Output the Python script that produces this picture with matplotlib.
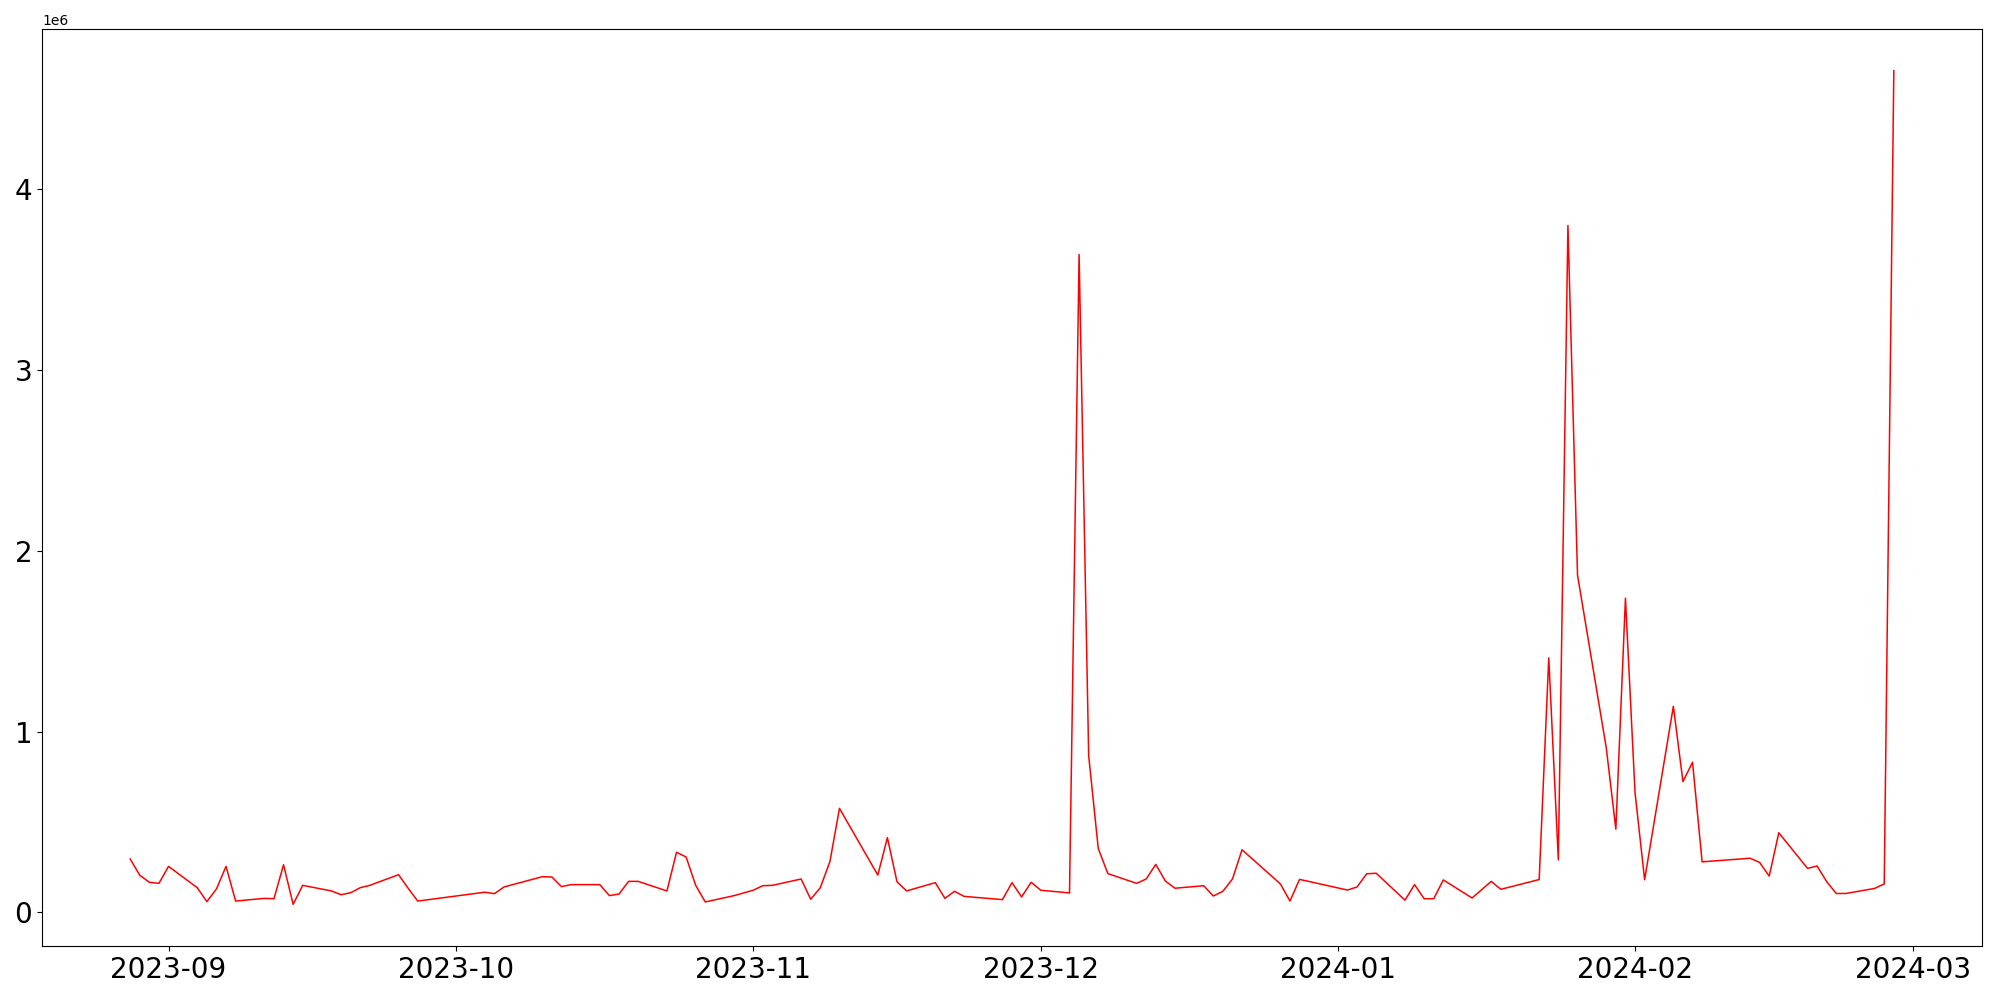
#/usr/bin/env python
'''
Daily series with a few large spikes, drawn as a red line
'''

import pandas as pd
import matplotlib
matplotlib.use('Agg')
import matplotlib.pyplot as plt

dates = ['2023-08-28', '2023-08-29', '2023-08-30', '2023-08-31', '2023-09-01',
         '2023-09-04', '2023-09-05', '2023-09-06', '2023-09-07', '2023-09-08',
         '2023-09-11', '2023-09-12', '2023-09-13', '2023-09-14', '2023-09-15',
         '2023-09-18', '2023-09-19', '2023-09-20', '2023-09-21', '2023-09-22',
         '2023-09-25', '2023-09-26', '2023-09-27',
         '2023-10-04', '2023-10-05', '2023-10-06',
         '2023-10-10', '2023-10-11', '2023-10-12', '2023-10-13',
         '2023-10-16', '2023-10-17', '2023-10-18', '2023-10-19', '2023-10-20',
         '2023-10-23', '2023-10-24', '2023-10-25', '2023-10-26', '2023-10-27',
         '2023-10-30',
         '2023-11-01', '2023-11-02', '2023-11-03',
         '2023-11-06', '2023-11-07', '2023-11-08', '2023-11-09', '2023-11-10',
         '2023-11-14', '2023-11-15', '2023-11-16', '2023-11-17',
         '2023-11-20', '2023-11-21', '2023-11-22', '2023-11-23',
         '2023-11-27', '2023-11-28', '2023-11-29', '2023-11-30', '2023-12-01',
         '2023-12-04', '2023-12-05', '2023-12-06', '2023-12-07', '2023-12-08',
         '2023-12-11', '2023-12-12', '2023-12-13', '2023-12-14', '2023-12-15',
         '2023-12-18', '2023-12-19', '2023-12-20', '2023-12-21', '2023-12-22',
         '2023-12-26', '2023-12-27', '2023-12-28',
         '2024-01-02', '2024-01-03', '2024-01-04', '2024-01-05',
         '2024-01-08', '2024-01-09', '2024-01-10', '2024-01-11', '2024-01-12',
         '2024-01-15', '2024-01-17', '2024-01-18',
         '2024-01-22', '2024-01-23', '2024-01-24', '2024-01-25', '2024-01-26',
         '2024-01-29', '2024-01-30', '2024-01-31', '2024-02-01', '2024-02-02',
         '2024-02-05', '2024-02-06', '2024-02-07', '2024-02-08',
         '2024-02-13', '2024-02-14', '2024-02-15', '2024-02-16',
         '2024-02-19', '2024-02-20', '2024-02-21', '2024-02-22', '2024-02-23',
         '2024-02-26', '2024-02-27', '2024-02-28']

# values in millions
values = [0.295, 0.205, 0.166, 0.160, 0.254,
          0.136, 0.059, 0.129, 0.254, 0.062,
          0.077, 0.075, 0.263, 0.044, 0.149,
          0.118, 0.097, 0.108, 0.136, 0.149,
          0.208, 0.133, 0.062,
          0.111, 0.103, 0.140,
          0.197, 0.195, 0.142, 0.153,
          0.153, 0.092, 0.101, 0.171, 0.171,
          0.118, 0.332, 0.306, 0.149, 0.057,
          0.092,
          0.122, 0.147, 0.149,
          0.184, 0.072, 0.136, 0.280, 0.575,
          0.206, 0.413, 0.169, 0.118,
          0.164, 0.077, 0.116, 0.088,
          0.070, 0.164, 0.085, 0.166, 0.122,
          0.107, 3.640, 0.866, 0.353, 0.214,
          0.160, 0.184, 0.265, 0.173, 0.133,
          0.147, 0.090, 0.116, 0.184, 0.346,
          0.157, 0.062, 0.182,
          0.123, 0.140, 0.213, 0.216,
          0.067, 0.153, 0.075, 0.075, 0.179,
          0.079, 0.171, 0.127,
          0.181, 1.408, 0.290, 3.800, 1.866,
          0.910, 0.460, 1.738, 0.663, 0.180,
          1.140, 0.723, 0.830, 0.279,
          0.299, 0.276, 0.200, 0.440,
          0.243, 0.256, 0.169, 0.104, 0.104,
          0.132, 0.157, 4.657]


def main():
    x = pd.to_datetime(dates)
    y = [v * 1e6 for v in values]

    fig, ax = plt.subplots(figsize=(20, 10), dpi=100)
    ax.plot(x, y, color='red', linewidth=1.1)
    ax.tick_params(axis='both', labelsize=20)
    fig.subplots_adjust(left=0.021, right=0.991, top=0.971, bottom=0.054)
    fig.savefig('out.png')
    plt.close(fig)


if __name__ == '__main__':
    main()
